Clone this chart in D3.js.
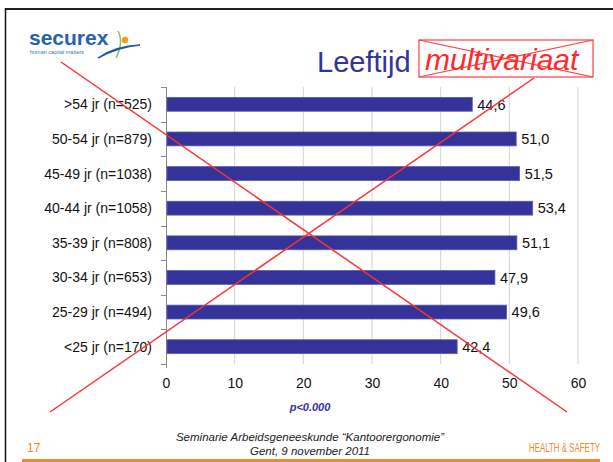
<!DOCTYPE html>
<html>
<head>
<meta charset="utf-8">
<script src="https://cdn.jsdelivr.net/npm/d3@7"></script>
<style>
    body { margin: 0; background: white; }
    svg { display: block; font-family: Arial, "Liberation Sans", sans-serif; }
</style>
</head>
<body>
<svg id="chart" width="613" height="462"></svg>
<script>
// age groups, top to bottom as on the slide
let groups = [">54 jr (n=525)", "50-54 jr (n=879)", "45-49 jr (n=1038)", "40-44 jr (n=1058)",
    "35-39 jr (n=808)", "30-34 jr (n=653)", "25-29 jr (n=494)", "<25 jr (n=170)"];
let scores = [44.6, 51.0, 51.5, 53.4, 51.1, 47.9, 49.6, 42.4];
let xTicks = [0, 10, 20, 30, 40, 50, 60];

let margin = { left: 166, right: 35, top: 87, bottom: 98 };
let W = 613, H = 462;
let w = W - margin.left - margin.right;
let h = H - margin.top - margin.bottom;

let svg = d3.select("#chart");

// slide frame
function drawFrame() {
    svg.append("line").attr("x1", 5).attr("x2", 613).attr("y1", 9).attr("y2", 9)
        .attr("stroke", "#222").attr("stroke-width", 2);
    svg.append("line").attr("x1", 5.5).attr("x2", 5.5).attr("y1", 8).attr("y2", 462)
        .attr("stroke", "#111").attr("stroke-width", 1.5);
    // orange footer bar
    svg.append("rect").attr("x", 22).attr("y", 459).attr("width", 578).attr("height", 3)
        .attr("fill", "#f08a2c");
}

// securex logo, rough
function drawLogo() {
    svg.append("text").attr("x", 29).attr("y", 45)
        .style("font-size", "21px").style("font-weight", "bold")
        .attr("fill", "#2a62a6").text("securex");
    svg.append("text").attr("x", 30).attr("y", 53.5)
        .style("font-size", "5.5px").attr("fill", "#3b78bb").text("human capital matters");
    svg.append("path").attr("d", "M118,31 Q124,42 116,58")
        .attr("fill", "none").attr("stroke", "#8cc63f").attr("stroke-width", 1.5);
    svg.append("circle").attr("cx", 125).attr("cy", 40).attr("r", 3.2).attr("fill", "#f39a1e");
    svg.append("path").attr("d", "M98,58 Q115,46 140,45 Q118,47 98,58 Z")
        .attr("fill", "#1d5aa6").attr("stroke", "#1d5aa6").attr("stroke-width", 1.5);
}

function drawTitle() {
    svg.append("text").attr("x", 317).attr("y", 72)
        .style("font-size", "29px").attr("fill", "#333399").text("Leeftijd");
    let g = svg.append("g").attr("stroke", "#ff4040").attr("stroke-width", 1.2).attr("fill", "none");
    g.append("rect").attr("x", 419).attr("y", 40).attr("width", 174).attr("height", 37);
    g.append("line").attr("x1", 419).attr("y1", 40).attr("x2", 593).attr("y2", 77);
    g.append("line").attr("x1", 419).attr("y1", 77).attr("x2", 593).attr("y2", 40);
    svg.append("text").attr("x", 425).attr("y", 70)
        .style("font-size", "30px").style("font-style", "italic")
        .attr("fill", "#ff2a2a").text("multivariaat");
}

function drawChart() {
    let plot = svg.append("g")
        .attr("transform", "translate(" + margin.left + ", " + margin.top + ")");

    let xScale = d3.scaleLinear().domain([0, 60]).range([0, w]);
    let yScale = d3.scaleBand().domain(groups).range([0, h]).paddingInner(0.6).paddingOuter(0.3);

    // vertical grid lines
    plot.append("g")
        .selectAll("line")
        .data(xTicks.slice(1))
        .enter()
        .append("line")
        .attr("x1", (d) => xScale(d)).attr("x2", (d) => xScale(d))
        .attr("y1", 0).attr("y2", h)
        .attr("stroke", "#d4d4d4").attr("stroke-width", 1);

    // x tick labels, no axis line
    let xAxis = d3.axisBottom(xScale).tickValues(xTicks).tickSize(0).tickPadding(14);
    let gx = plot.append("g").attr("transform", "translate(0, " + h + ")").call(xAxis);
    gx.select(".domain").remove();
    gx.selectAll("text").style("font-size", "14px").style("font-family", "Arial, 'Liberation Sans'")
        .attr("fill", "#111");

    // y axis: line with ticks between categories
    let boundaries = d3.range(groups.length + 1).map((i) => i * h / groups.length);
    plot.append("line").attr("x1", 0.5).attr("x2", 0.5).attr("y1", 0).attr("y2", h + 4)
        .attr("stroke", "#8a8a8a");
    plot.append("g").selectAll("line")
        .data(boundaries)
        .enter()
        .append("line")
        .attr("x1", -5).attr("x2", 0.5)
        .attr("y1", (d) => Math.round(d) + 0.5).attr("y2", (d) => Math.round(d) + 0.5)
        .attr("stroke", "#8a8a8a");

    // category labels
    plot.append("g").selectAll("text")
        .data(groups)
        .enter()
        .append("text")
        .attr("x", -14)
        .attr("y", (d) => yScale(d) + yScale.bandwidth() / 2)
        .attr("dy", "0.36em")
        .attr("text-anchor", "end")
        .style("font-size", "14px")
        .attr("fill", "#111")
        .text((d) => d);

    // bars
    plot.append("g").selectAll("rect")
        .data(groups)
        .enter()
        .append("rect")
        .attr("x", 1)
        .attr("y", (d) => yScale(d))
        .attr("width", (d, i) => xScale(scores[i]) - 1)
        .attr("height", yScale.bandwidth())
        .attr("fill", "#333399")
        .attr("stroke", "#5a5ab0")
        .attr("stroke-width", 0.8);

    // value labels
    plot.append("g").selectAll("text")
        .data(groups)
        .enter()
        .append("text")
        .attr("x", (d, i) => xScale(scores[i]) + 5)
        .attr("y", (d) => yScale(d) + yScale.bandwidth() / 2)
        .attr("dy", "0.36em")
        .style("font-size", "14.5px")
        .attr("fill", "#111")
        .text((d, i) => d3.format(".1f")(scores[i]).replace(".", ","));
}

function drawNotes() {
    svg.append("text").attr("x", 310).attr("y", 411).attr("text-anchor", "middle")
        .style("font-size", "11px").style("font-weight", "bold").style("font-style", "italic")
        .attr("fill", "#333399").text("p<0.000");
    svg.append("text").attr("x", 310).attr("y", 441).attr("text-anchor", "middle")
        .style("font-size", "11.5px").style("font-style", "italic").attr("fill", "#222")
        .text("Seminarie Arbeidsgeneeskunde \u201CKantoorergonomie\u201D");
    svg.append("text").attr("x", 310).attr("y", 455).attr("text-anchor", "middle")
        .style("font-size", "11.5px").style("font-style", "italic").attr("fill", "#222")
        .text("Gent, 9 november 2011");
    svg.append("text").attr("x", 27).attr("y", 452)
        .style("font-size", "12px").attr("fill", "#f08a2c").text("17");
    // condensed look by squeezing the text horizontally
    svg.append("text").attr("transform", "translate(600, 452) scale(0.66, 1)")
        .attr("text-anchor", "end")
        .style("font-size", "12px")
        .attr("fill", "#f08a2c").text("HEALTH & SAFETY");
}

// big red cross over the whole chart
function drawCross() {
    let g = svg.append("g").attr("stroke", "#ff3030").attr("stroke-width", 1.5);
    g.append("line").attr("x1", 61).attr("y1", 62).attr("x2", 567).attr("y2", 412);
    g.append("line").attr("x1", 50).attr("y1", 412).attr("x2", 534).attr("y2", 78);
}

drawFrame();
drawLogo();
drawTitle();
drawChart();
drawNotes();
drawCross();
</script>
</body>
</html>
